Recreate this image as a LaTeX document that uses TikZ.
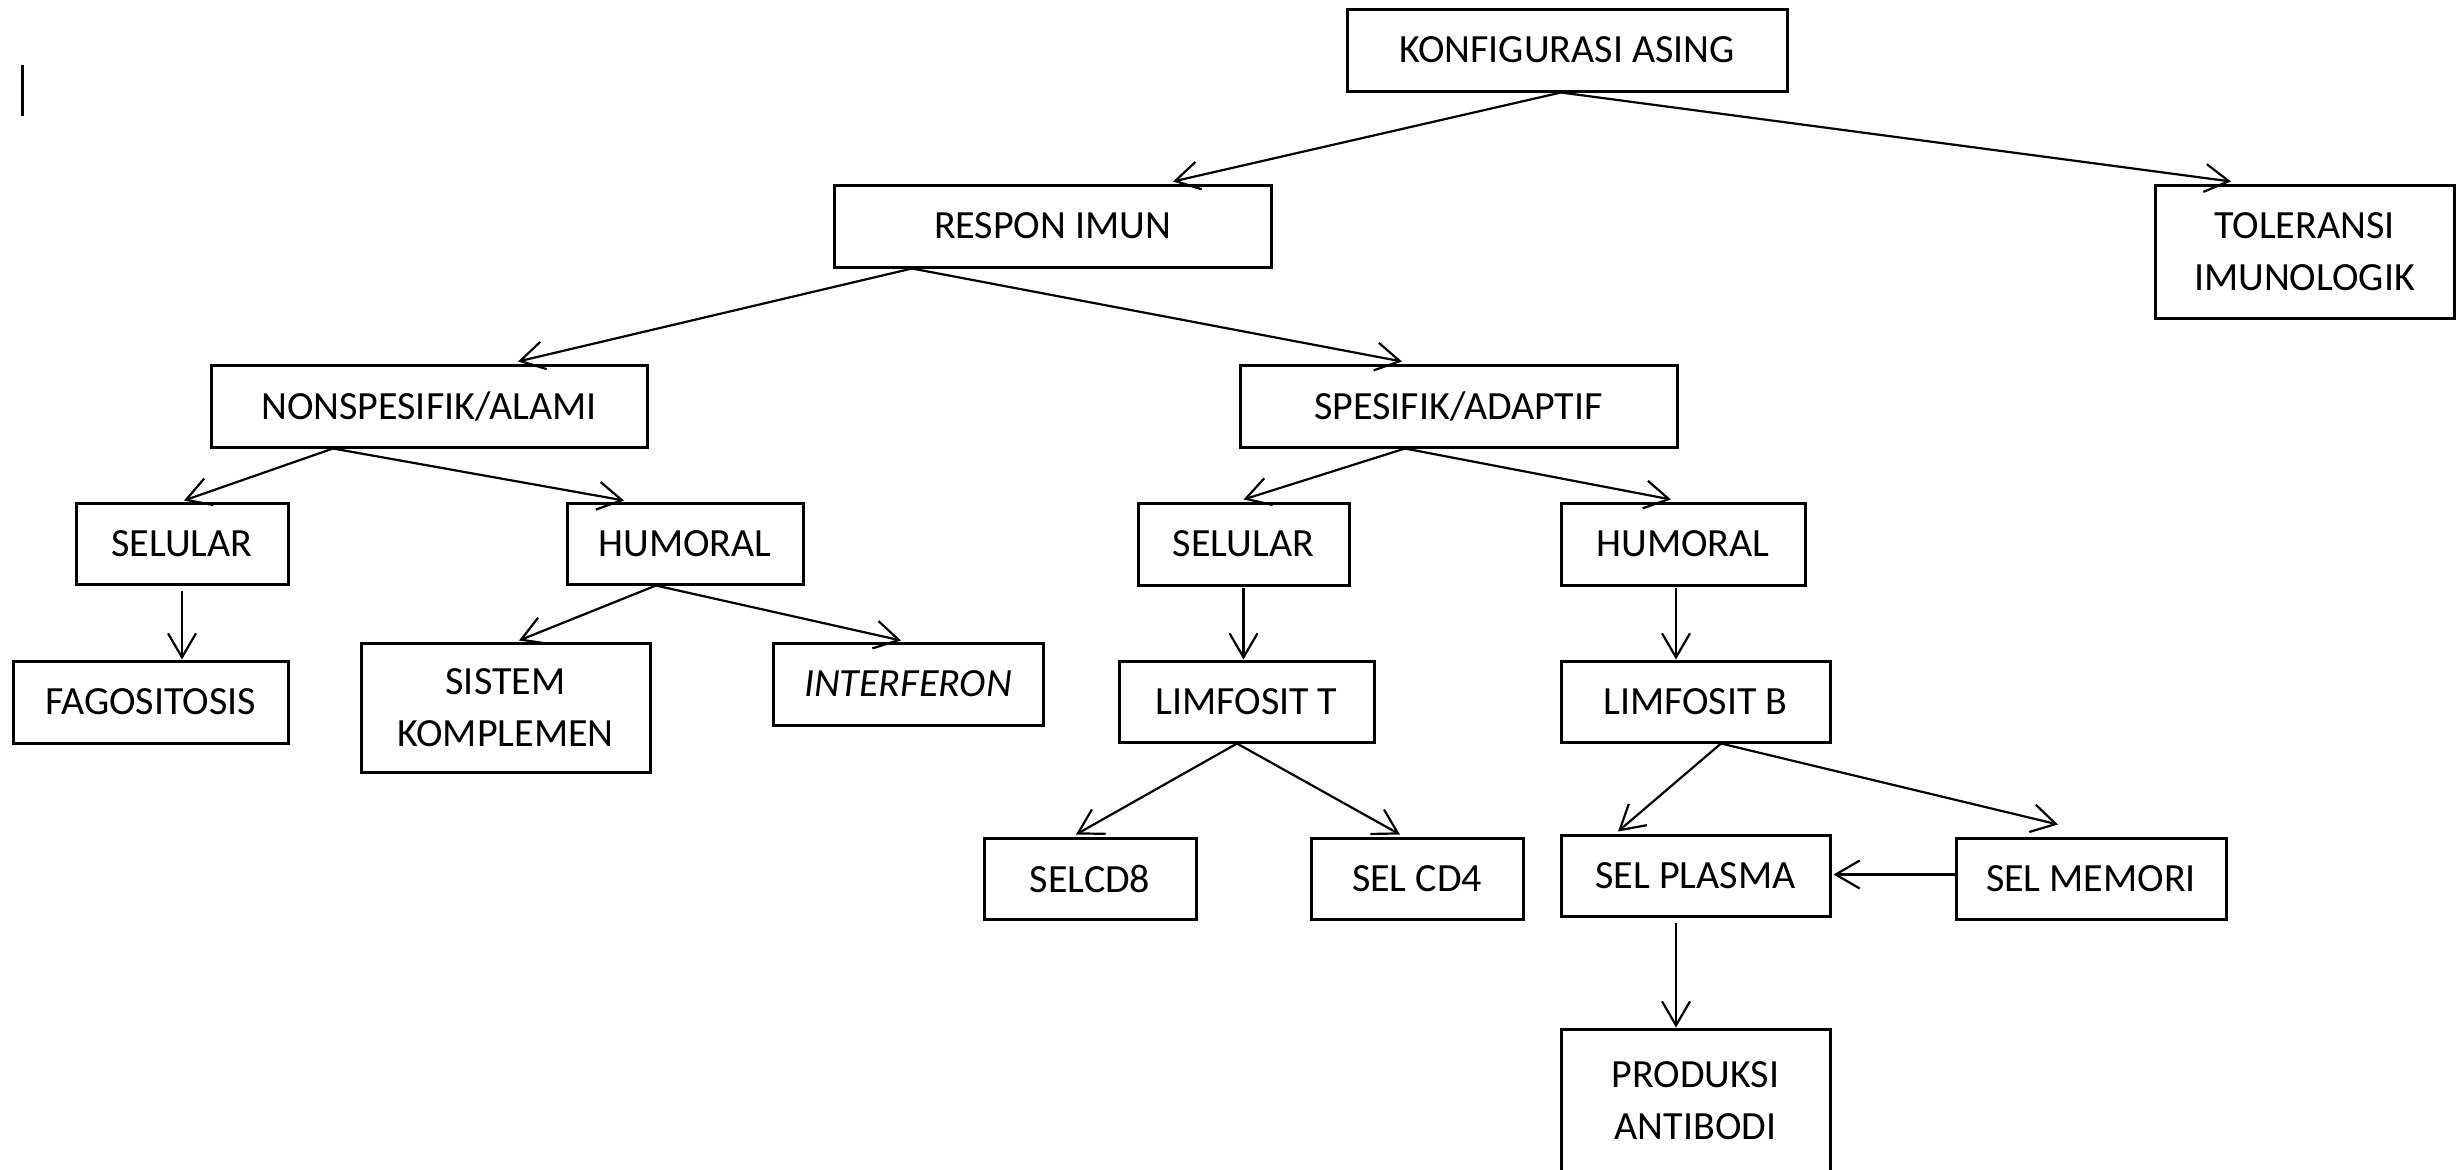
\documentclass[tikz,border=0pt]{standalone}
\usepackage{fontspec}
\setmainfont{Carlito}
\usetikzlibrary{arrows.meta,calc}
\begin{document}
\begin{tikzpicture}[x=1pt,y=-1pt,
  box/.style={draw,line width=3pt,inner sep=0pt,align=center,font=\fontsize{40}{52}\selectfont},
  arr/.style={line width=2.2pt,-{Straight Barb[length=24pt,width=28pt]}}]
\useasboundingbox (0,0) rectangle (2458,1170);
% cursor mark
\draw[line width=3pt] (22,65) -- (22,116);
% nodes
\node[box,minimum width=440pt,minimum height=82pt] (konf) at (1567,50) {KONFIGURASI ASING};
\node[box,minimum width=299pt,minimum height=133pt] (tol) at (2304.5,251.5) {TOLERANSI\\IMUNOLOGIK};
\node[box,minimum width=437pt,minimum height=82pt] (resp) at (1052.5,226) {RESPON IMUN};
\node[box,minimum width=436pt,minimum height=82pt] (nons) at (429,406) {NONSPESIFIK/ALAMI};
\node[box,minimum width=437pt,minimum height=82pt] (spes) at (1458.5,406) {SPESIFIK/ADAPTIF};
\node[box,minimum width=212pt,minimum height=81pt] (sela) at (182,543.5) {SELULAR};
\node[box,minimum width=236pt,minimum height=81pt] (huma) at (685,543.5) {HUMORAL};
\node[box,minimum width=275pt,minimum height=82pt] (fago) at (150.5,702) {FAGOSITOSIS};
\node[box,minimum width=289pt,minimum height=129pt] (sist) at (505.5,707.5) {SISTEM\\KOMPLEMEN};
\node[box,minimum width=270pt,minimum height=82pt] (intf) at (908,684) {\itshape INTERFERON};
\node[box,minimum width=211pt,minimum height=82pt] (selb) at (1243.5,544) {SELULAR};
\node[box,minimum width=244pt,minimum height=82pt] (humb) at (1683,544) {HUMORAL};
\node[box,minimum width=255pt,minimum height=81pt] (limt) at (1246.5,701.5) {LIMFOSIT T};
\node[box,minimum width=269pt,minimum height=81pt] (limb) at (1695.5,701.5) {LIMFOSIT B};
\node[box,minimum width=212pt,minimum height=81pt] (cdd) at (1090,878.5) {SELCD8};
\node[box,minimum width=212pt,minimum height=81pt] (cdf) at (1417,878.5) {SEL CD4};
\node[box,minimum width=269pt,minimum height=81pt] (plas) at (1695.5,875.5) {SEL PLASMA};
\node[box,minimum width=270pt,minimum height=81pt] (memo) at (2091,878.5) {SEL MEMORI};
\node[box,minimum width=269pt,minimum height=143pt] (prod) at (1695.5,1100.5) {PRODUKSI\\ANTIBODI};
% helper coordinates
\coordinate (sas) at ([yshift=-5pt]sela.south);
\coordinate (sbs) at ([yshift=-1pt]selb.south);
\coordinate (hbs) at ([xshift=-7pt,yshift=-1pt]humb.south);
\coordinate (pls) at ([xshift=-19.5pt,yshift=-5pt]plas.south);
% connectors
\draw[arr] ([xshift=-6pt]konf.south) -- ([xshift=120.5pt,yshift=2pt]resp.north);
\draw[arr] ([xshift=-6pt]konf.south) -- ([xshift=-73.5pt,yshift=2pt]tol.north);
\draw[arr] ([xshift=-140.5pt]resp.south) -- ([xshift=89pt,yshift=2pt]nons.north);
\draw[arr] ([xshift=-140.5pt]resp.south) -- ([xshift=-56.5pt,yshift=2pt]spes.north);
\draw[arr] ([xshift=-96pt]nons.south) -- ([xshift=2pt,yshift=1pt]sela.north);
\draw[arr] ([xshift=-96pt]nons.south) -- ([xshift=-61pt,yshift=1pt]huma.north);
\draw[arr] (sas) -- (sas |- fago.north);
\draw[arr] ([xshift=-29pt]huma.south) -- ([xshift=13.5pt,yshift=1pt]sist.north);
\draw[arr] ([xshift=-29pt]huma.south) -- ([xshift=-7pt,yshift=1pt]intf.north);
\draw[arr] ([xshift=-53.5pt]spes.south) -- ([yshift=2pt]selb.north);
\draw[arr] ([xshift=-53.5pt]spes.south) -- ([xshift=-12pt,yshift=2pt]humb.north);
\draw[arr] (sbs) -- (sbs |- limt.north);
\draw[arr] (hbs) -- (hbs |- limb.north);
\draw[arr] ([xshift=-9.5pt]limt.south) -- ([xshift=-14pt,yshift=2pt]cdd.north);
\draw[arr] ([xshift=-9.5pt]limt.south) -- ([xshift=-17pt,yshift=2pt]cdf.north);
\draw[arr] ([xshift=25.5pt]limb.south) -- ([xshift=-77.5pt,yshift=2pt]plas.north);
\draw[arr] ([xshift=25.5pt]limb.south) -- ([xshift=-33pt,yshift=12pt]memo.north);
\draw[arr] ([yshift=4pt]memo.west) -- ([xshift=2pt,yshift=4pt]memo.west -| plas.east);
\draw[arr] (pls) -- (pls |- prod.north);
\end{tikzpicture}
\end{document}
